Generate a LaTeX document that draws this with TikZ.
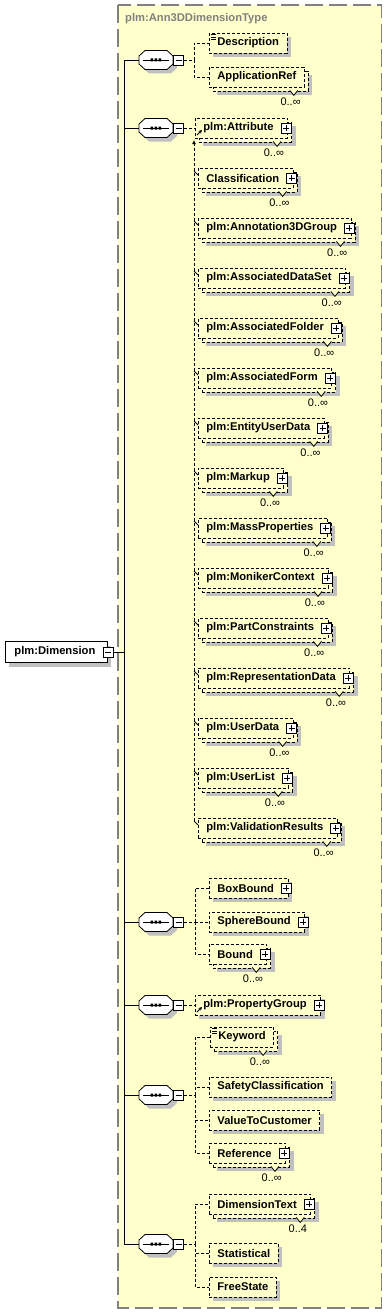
\documentclass[tikz,border=0pt]{standalone}
\usepackage{fontspec}
\newfontfamily\lib{Liberation Sans}
\usetikzlibrary{calc,shadows,arrows.meta}
\definecolor{bg}{HTML}{FFFFCC}
\definecolor{shgray}{HTML}{C0C0C0}
\definecolor{bordergray}{HTML}{808080}
\newcommand\elfont{\lib\bfseries\fontsize{11.2}{13}\selectfont}
\newcommand\multfont{\lib\fontsize{11}{12}\selectfont}
\tikzset{
  boxdash/.style={dash pattern=on 3pt off 2pt},
  conn/.style={line width=0.8pt, boxdash},
  trunk/.style={line width=0.9pt},
  el/.style={draw, line width=0.8pt, boxdash, fill=bg, font=\elfont, minimum height=20pt, inner xsep=8pt, inner ysep=0pt, anchor=west,
     general shadow={fill=shgray, draw=none, shadow xshift=4pt, shadow yshift=-4pt}},
  elm/.style={draw, line width=0.8pt, boxdash, fill=bg, font=\elfont, minimum height=20pt, inner xsep=8pt, inner ysep=0pt, anchor=west,
     general shadow={fill=shgray, draw=none, shadow xshift=8pt, shadow yshift=-8pt},
     general shadow={fill=bg, draw=black, line width=0.8pt, boxdash, shadow xshift=4pt, shadow yshift=-4pt}},
  mainel/.style={draw, solid, line width=0.9pt, fill=white, font=\elfont, minimum height=21pt, inner xsep=9pt, inner ysep=0pt, anchor=west,
     general shadow={fill=shgray, draw=none, shadow xshift=4pt, shadow yshift=-4pt}},
  pmbox/.style={draw, solid, line width=0.8pt, fill=white, minimum size=10pt, inner sep=0pt},
  plusbox/.style={pmbox, path picture={\draw[line width=0.8pt] ([xshift=-3pt]path picture bounding box.center) -- ([xshift=3pt]path picture bounding box.center) ([yshift=-3pt]path picture bounding box.center) -- ([yshift=3pt]path picture bounding box.center);}},
  minusbox/.style={pmbox, path picture={\draw[line width=0.8pt] ([xshift=-3pt]path picture bounding box.center) -- ([xshift=3pt]path picture bounding box.center);}},
  cnode/.style={draw=none, minimum width=34pt, minimum height=19pt, inner sep=0pt},
  mult/.style={font=\multfont, inner sep=0pt, anchor=north east},
}
\newcommand\seqc[2]{%
  \node[cnode] (#1) at (156,#2) {};
  \fill[shgray, shift={(4,4)}] (139,#2-4) -- (145,#2-9.5) -- (167,#2-9.5) -- (173,#2-4) -- (173,#2+4) -- (167,#2+9.5) -- (145,#2+9.5) -- (139,#2+4) -- cycle;
  \draw[line width=0.8pt, fill=white] (139,#2-4) -- (145,#2-9.5) -- (167,#2-9.5) -- (173,#2-4) -- (173,#2+4) -- (167,#2+9.5) -- (145,#2+9.5) -- (139,#2+4) -- cycle;
  \draw[line width=0.8pt] (143,#2) -- (169,#2);
  \fill (150.5,#2-1.5) rectangle ++(2.5,3) (154.5,#2-1.5) rectangle ++(2.5,3) (158.5,#2-1.5) rectangle ++(2.5,3);
  \node[minusbox] (#1m) at (178.5,#2) {};
}
\newcommand\plusof[1]{\node[plusbox] (p#1) at ($(#1.east)+(-2,0)$) {};}
\newcommand\multlabel[2]{%
  \filldraw[fill=bg, solid, line width=0.8pt] ($(#1.south east)+(-15,3)$) -- ($(#1.south east)+(-11,8)$) -- ($(#1.south east)+(-7,3)$);
  \node[mult] (l#1) at ($(#1.south east)+(-4,10)$) {#2};}
\newcommand\refarrow[1]{\draw[line width=0.9pt, solid, -{Stealth[length=3.5pt,width=3.5pt]}] ($(#1.west)+(2,7)$) -- ($(#1.west)+(7,2)$);}
\newcommand\docicon[1]{\draw[line width=0.7pt, solid] ($(#1.north west)+(2,2)$) -- ++(5,0) ($(#1.north west)+(2,4.5)$) -- ++(5,0) ($(#1.north west)+(2,7)$) -- ++(5,0);}
\begin{document}
\begin{tikzpicture}[x=1pt,y=-1pt]
\useasboundingbox (0,0) rectangle (387,1314);
\draw[bordergray, line width=1.6pt, dash pattern=on 18pt off 6pt, fill=bg] (118,5) rectangle (381.5,1308);
\node[font=\elfont, text=bordergray, anchor=west, inner sep=0pt] (title) at (125,19) {plm:Ann3DDimensionType};

% main element
\node[mainel] (dim) at (5,652) {plm:Dimension\kern3pt};
\node[minusbox] (dimm) at ($(dim.east)+(0.5,0)$) {};
\coordinate (tTop) at (124,60);
\coordinate (tBot) at (124,1244);
\coordinate (tMid) at (124,652);
\draw[trunk] (tTop) -- (tBot);
\draw[trunk] (dimm.east) -- (tMid);

% compositors
\seqc{c1}{60}
\seqc{c2}{128}
\seqc{c3}{922}
\seqc{c4}{1005}
\seqc{c5}{1095}
\seqc{c6}{1244}
\foreach \c/\y in {c1/60,c2/128,c3/922,c4/1005,c5/1095,c6/1244}{
  \coordinate (t\c) at (124,\y);
  \draw[trunk] (t\c) -- (\c.west);
}

% group 1
\node[el] (desc) at (209,43) {Description};
\docicon{desc}
\node[elm] (appref) at (209,77) {ApplicationRef};
\multlabel{appref}{0..∞}
\coordinate (j1) at (194,60);
\draw[conn] (c1m.east) -- (j1);
\draw[conn] (j1) |- (desc.west);
\draw[conn] (j1) |- (appref.west);

% group 2
\node[elm] (attr) at (195,128) {plm:Attribute\kern6pt};
\plusof{attr}
\refarrow{attr}
\multlabel{attr}{0..∞}
\draw[conn] (c2m.east) -- (attr.west);
\coordinate (sgTop) at (194,140);
\coordinate (sgBot) at (194,821);
\draw[conn, -{Latex[length=4pt,width=4pt]}] (sgBot) -- (sgTop);
\foreach \t [count=\i] in {Classification,plm:Annotation3DGroup,plm:AssociatedDataSet,plm:AssociatedFolder,plm:AssociatedForm,plm:EntityUserData,plm:Markup,plm:MassProperties,plm:MonikerContext,plm:PartConstraints,plm:RepresentationData,plm:UserData,plm:UserList,plm:ValidationResults}{
  \node[elm] (m\i) at (198,128+50*\i) {\t\kern6pt};
  \plusof{m\i}
  \multlabel{m\i}{0..∞}
  \draw[line width=0.8pt] ($(m\i.west)+(-4,-7)$) -- ($(m\i.west)+(0,-3)$);
}

% group 3
\node[el] (boxb) at (209,888) {BoxBound\kern6pt};
\plusof{boxb}
\node[el] (sphb) at (209,922) {SphereBound\kern6pt};
\plusof{sphb}
\node[elm] (bound) at (209,954) {Bound\kern6pt};
\plusof{bound}
\multlabel{bound}{0..∞}
\coordinate (j3) at (195,922);
\draw[conn] (c3m.east) -- (j3);
\draw[conn] (j3) |- (boxb.west);
\draw[conn] (j3) |- (sphb.west);
\draw[conn] (j3) |- (bound.west);

% group 4
\node[el] (pg) at (195,1005) {plm:PropertyGroup\kern6pt};
\plusof{pg}
\refarrow{pg}
\draw[conn] (c4m.east) -- (pg.west);

% group 5
\node[elm] (kw) at (210,1037) {Keyword};
\docicon{kw}
\multlabel{kw}{0..∞}
\node[el] (safe) at (209,1087) {SafetyClassification};
\node[el] (vtc) at (209,1120) {ValueToCustomer};
\node[elm] (refe) at (209,1153) {Reference\kern6pt};
\plusof{refe}
\multlabel{refe}{0..∞}
\coordinate (j5) at (195,1095);
\draw[conn] (c5m.east) -- (j5);
\draw[conn] (j5) |- (kw.west);
\draw[conn] (j5) |- (safe.west);
\draw[conn] (j5) |- (vtc.west);
\draw[conn] (j5) |- (refe.west);

% group 6
\node[elm] (dimt) at (209,1204) {DimensionText\kern6pt};
\plusof{dimt}
\multlabel{dimt}{0..4}
\node[el] (stat) at (209,1253) {Statistical};
\node[el] (free) at (209,1287) {FreeState};
\coordinate (j6) at (195,1244);
\draw[conn] (c6m.east) -- (j6);
\draw[conn] (j6) |- (dimt.west);
\draw[conn] (j6) |- (stat.west);
\draw[conn] (j6) |- (free.west);
\end{tikzpicture}
\end{document}
